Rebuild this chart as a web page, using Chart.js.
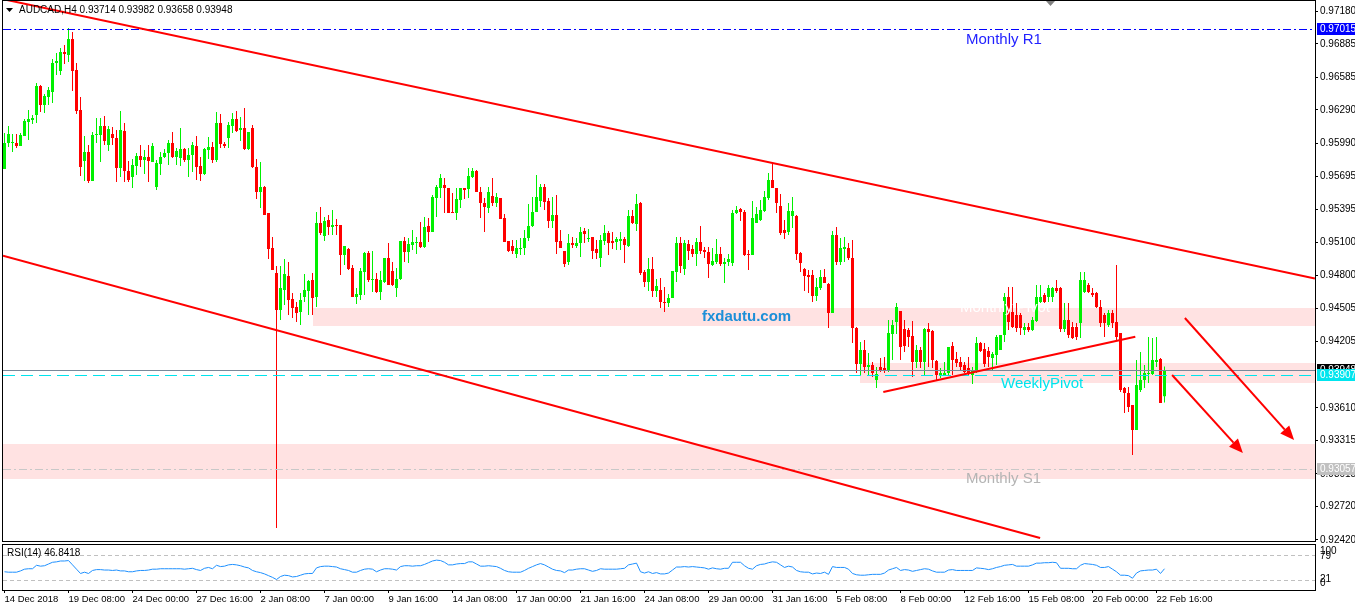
<!DOCTYPE html>
<html><head><meta charset="utf-8">
<script src="https://cdn.jsdelivr.net/npm/chart.js@4.4.1/dist/chart.umd.min.js"></script>
<style>
html,body{margin:0;padding:0;background:#fff;overflow:hidden;}
#wrap{position:relative;width:1355px;height:610px;background:#fff;}
canvas{position:absolute;left:0;}
#main{top:0;}
#rsi{top:543px;}
</style></head><body>
<div id="wrap"><canvas id="main" width="1355" height="548"></canvas><canvas id="rsi" width="1355" height="67"></canvas></div>
<script>
// ---------------- DATA ----------------
const open = [
0.95759,0.95993,0.95993,0.95993,0.95966,0.96056,0.96182,0.96200,0.96245,0.96506,
0.96335,0.96407,0.96452,0.96713,0.96641,0.96812,0.96785,0.96929,0.96650,0.96290,
0.95831,0.95912,0.95651,0.96065,0.96065,0.96146,0.95975,0.96074,0.96038,0.95768,
0.96101,0.95741,0.95687,0.95786,0.95876,0.95840,0.95867,0.95822,0.95597,0.95804,
0.95867,0.95903,0.95993,0.95867,0.95858,0.95939,0.95840,0.95885,0.95966,0.95786,
0.95714,0.95930,0.95957,0.95840,0.96173,0.95984,0.96038,0.96146,0.96209,0.96110,
0.96128,0.95939,0.96128,0.95777,0.95552,0.95597,0.95363,0.95048,0.94823,0.94490,
0.94670,0.94796,0.94589,0.94517,0.94472,0.94607,0.94661,0.94760,0.94607,0.95273,
0.95156,0.95300,0.95237,0.95255,0.95255,0.94985,0.95039,0.94868,0.94607,0.94625,
0.94832,0.95003,0.94760,0.94769,0.94652,0.94742,0.94958,0.94841,0.94688,0.94769,
0.95111,0.95012,0.95075,0.95093,0.95102,0.95057,0.95246,0.95192,0.95498,0.95588,
0.95615,0.95588,0.95372,0.95363,0.95480,0.95588,0.95579,0.95687,0.95741,0.95552,
0.95453,0.95408,0.95516,0.95453,0.95498,0.95318,0.95111,0.95066,0.94994,0.95039,
0.95048,0.95138,0.95246,0.95372,0.95471,0.95597,0.95471,0.95291,0.95345,0.95111,
0.95021,0.94922,0.95093,0.95066,0.95093,0.95201,0.95129,0.95147,0.95039,0.94958,
0.95111,0.95183,0.95111,0.95102,0.95111,0.95129,0.95066,0.95336,0.95264,0.95453,
0.94832,0.94742,0.94859,0.94661,0.94670,0.94562,0.94553,0.94598,0.94832,0.95093,
0.94859,0.95084,0.95039,0.94994,0.95102,0.95030,0.95012,0.94895,0.94922,0.94994,
0.94904,0.94922,0.94913,0.95363,0.95399,0.95372,0.94994,0.94985,0.95273,0.95300,
0.95381,0.95498,0.95660,0.95588,0.95426,0.95210,0.95192,0.95336,0.95336,0.95003,
0.94859,0.94805,0.94805,0.94616,0.94688,0.94787,0.94724,0.94463,0.95165,0.94922,
0.95039,0.95048,0.94958,0.94328,0.94004,0.94130,0.93977,0.93995,0.93860,0.93977,
0.93968,0.93941,0.94274,0.94382,0.94481,0.94319,0.94310,0.94256,0.94022,0.94130,
0.94022,0.94319,0.94301,0.94031,0.93905,0.93905,0.93923,0.94166,0.94049,0.94022,
0.93995,0.93968,0.93905,0.93950,0.94193,0.94139,0.94121,0.94058,0.94085,0.94130,
0.94265,0.94607,0.94472,0.94445,0.94445,0.94310,0.94337,0.94310,0.94391,0.94562,
0.94625,0.94607,0.94607,0.94688,0.94688,0.94319,0.94400,0.94337,0.94337,0.94373,
0.94652,0.94715,0.94643,0.94643,0.94517,0.94445,0.94355,0.94463,0.94382,0.94283,
0.93788,0.93743,0.93635,0.93410,0.93770,0.93860,0.93914,0.93914,0.94022,0.94049,
0.93714];
const high = [
0.96083,0.96146,0.96074,0.96074,0.96083,0.96209,0.96290,0.96245,0.96533,0.96515,
0.96434,0.96497,0.96749,0.96803,0.96848,0.96875,0.97028,0.96992,0.96713,0.96407,
0.96056,0.95975,0.96092,0.96218,0.96218,0.96236,0.96146,0.96137,0.96110,0.96281,
0.96173,0.95831,0.95849,0.95903,0.95975,0.95930,0.95975,0.95993,0.95840,0.95912,
0.95939,0.96020,0.96092,0.95948,0.96128,0.95948,0.95948,0.96002,0.96056,0.95867,
0.95948,0.96047,0.96002,0.96272,0.96254,0.96002,0.96182,0.96263,0.96281,0.96227,
0.96308,0.96092,0.96155,0.95849,0.95822,0.95606,0.95363,0.95147,0.94886,0.94886,
0.94949,0.94922,0.94643,0.94562,0.94643,0.94814,0.94760,0.94823,0.95372,0.95417,
0.95327,0.95345,0.95390,0.95309,0.95255,0.95066,0.95048,0.94895,0.94688,0.94868,
0.95012,0.95021,0.95021,0.94823,0.94841,0.94958,0.95093,0.94922,0.94868,0.95111,
0.95147,0.95138,0.95210,0.95147,0.95282,0.95327,0.95318,0.95525,0.95615,0.95714,
0.95678,0.95588,0.95543,0.95588,0.95588,0.95588,0.95768,0.95768,0.95750,0.95597,
0.95498,0.95597,0.95678,0.95543,0.95498,0.95354,0.95111,0.95120,0.95120,0.95138,
0.95210,0.95444,0.95507,0.95705,0.95624,0.95624,0.95498,0.95507,0.95525,0.95210,
0.95021,0.95174,0.95147,0.95138,0.95237,0.95228,0.95219,0.95147,0.95120,0.95165,
0.95255,0.95201,0.95192,0.95147,0.95192,0.95147,0.95390,0.95390,0.95534,0.95462,
0.94850,0.94958,0.94967,0.94769,0.94778,0.94697,0.94634,0.94841,0.95147,0.95147,
0.95120,0.95120,0.95075,0.95138,0.95246,0.95057,0.95057,0.95048,0.95129,0.95057,
0.94958,0.94994,0.95390,0.95426,0.95408,0.95390,0.95030,0.95471,0.95417,0.95480,
0.95561,0.95723,0.95822,0.95588,0.95534,0.95300,0.95453,0.95507,0.95345,0.95012,
0.94868,0.94850,0.94850,0.94778,0.94850,0.94859,0.94733,0.95201,0.95237,0.95138,
0.95147,0.95093,0.95120,0.94337,0.94202,0.94220,0.94103,0.94022,0.93977,0.94058,
0.94067,0.94400,0.94400,0.94553,0.94481,0.94400,0.94328,0.94391,0.94175,0.94157,
0.94328,0.94373,0.94310,0.94040,0.93968,0.94022,0.94157,0.94202,0.94112,0.94067,
0.94022,0.94067,0.93977,0.94247,0.94202,0.94193,0.94157,0.94112,0.94265,0.94265,
0.94643,0.94697,0.94697,0.94553,0.94463,0.94373,0.94373,0.94427,0.94715,0.94715,
0.94643,0.94715,0.94697,0.94760,0.94697,0.94553,0.94553,0.94382,0.94373,0.94832,
0.94832,0.94733,0.94688,0.94652,0.94580,0.94463,0.94490,0.94490,0.94895,0.94283,
0.93797,0.93797,0.93635,0.94040,0.94112,0.93995,0.94247,0.94238,0.94247,0.94058,
0.93982];
const low = [
0.95759,0.95957,0.95912,0.95948,0.95966,0.96056,0.96020,0.96164,0.96173,0.96272,
0.96263,0.96335,0.96353,0.96605,0.96605,0.96704,0.96722,0.96461,0.96254,0.95696,
0.95651,0.95633,0.95651,0.95993,0.95822,0.95975,0.95921,0.95975,0.95642,0.95687,
0.95642,0.95642,0.95588,0.95705,0.95777,0.95714,0.95642,0.95822,0.95570,0.95705,
0.95858,0.95795,0.95858,0.95795,0.95786,0.95822,0.95687,0.95732,0.95660,0.95651,
0.95705,0.95849,0.95813,0.95822,0.95948,0.95948,0.95948,0.96083,0.96092,0.96011,
0.95930,0.95930,0.95768,0.95489,0.95408,0.95345,0.94949,0.94850,0.92528,0.94400,
0.94535,0.94445,0.94418,0.94382,0.94355,0.94562,0.94445,0.94445,0.94517,0.95165,
0.95111,0.95165,0.95165,0.95165,0.94805,0.94895,0.94850,0.94607,0.94544,0.94580,
0.94625,0.94742,0.94652,0.94643,0.94580,0.94733,0.94715,0.94706,0.94607,0.94760,
0.94922,0.94913,0.95030,0.94994,0.95048,0.95048,0.95102,0.95192,0.95327,0.95498,
0.95363,0.95363,0.95363,0.95300,0.95408,0.95489,0.95498,0.95678,0.95552,0.95318,
0.95192,0.95363,0.95426,0.95417,0.95309,0.95102,0.95012,0.94994,0.94958,0.94985,
0.94985,0.95111,0.95237,0.95372,0.95417,0.95390,0.95228,0.95228,0.94994,0.95048,
0.94877,0.94895,0.95048,0.95048,0.94967,0.95093,0.95102,0.94949,0.94949,0.94877,
0.95075,0.94985,0.95039,0.95030,0.95030,0.94913,0.95057,0.95264,0.95201,0.94805,
0.94697,0.94661,0.94607,0.94607,0.94508,0.94472,0.94517,0.94598,0.94742,0.94823,
0.94805,0.94940,0.94967,0.94886,0.94994,0.94958,0.94778,0.94886,0.94904,0.94886,
0.94733,0.94886,0.94886,0.95354,0.95291,0.94976,0.94850,0.94985,0.95273,0.95291,
0.95372,0.95480,0.95588,0.95363,0.95165,0.95129,0.95165,0.95228,0.94940,0.94832,
0.94661,0.94643,0.94562,0.94571,0.94670,0.94733,0.94328,0.94463,0.94895,0.94895,
0.94922,0.94940,0.94193,0.93923,0.93905,0.93923,0.93905,0.93887,0.93788,0.93932,
0.93923,0.93932,0.94040,0.94274,0.94040,0.94112,0.94157,0.93887,0.93968,0.93968,
0.93905,0.93977,0.93968,0.93860,0.93878,0.93905,0.93905,0.93905,0.93977,0.93950,
0.93923,0.93905,0.93824,0.93923,0.94112,0.93977,0.93977,0.93950,0.93995,0.94130,
0.94202,0.94310,0.94328,0.94292,0.94265,0.94265,0.94292,0.94301,0.94382,0.94553,
0.94553,0.94562,0.94562,0.94643,0.94292,0.94292,0.94238,0.94229,0.94220,0.94238,
0.94643,0.94643,0.94607,0.94508,0.94337,0.94247,0.94337,0.94328,0.94220,0.93752,
0.93563,0.93572,0.93185,0.93410,0.93752,0.93788,0.93833,0.93905,0.93977,0.93653,
0.93658];
const close = [
0.95993,0.96074,0.96002,0.95966,0.96065,0.96191,0.96209,0.96218,0.96506,0.96335,
0.96416,0.96470,0.96713,0.96731,0.96812,0.96794,0.96929,0.96641,0.96281,0.95777,
0.95912,0.95651,0.96065,0.96074,0.96146,0.96011,0.96119,0.96038,0.95768,0.96110,
0.95741,0.95660,0.95795,0.95876,0.95840,0.95867,0.95831,0.95966,0.95813,0.95867,
0.95903,0.95993,0.95867,0.95921,0.95939,0.95840,0.95885,0.95975,0.95777,0.95714,
0.95939,0.95957,0.95840,0.96173,0.95984,0.95966,0.96155,0.96209,0.96101,0.96128,
0.95939,0.96092,0.95777,0.95552,0.95597,0.95345,0.95039,0.94850,0.94490,0.94688,
0.94814,0.94580,0.94508,0.94463,0.94580,0.94670,0.94751,0.94598,0.95273,0.95183,
0.95291,0.95237,0.95255,0.95246,0.94985,0.95066,0.94859,0.94607,0.94634,0.94841,
0.95003,0.94760,0.94769,0.94652,0.94760,0.94958,0.94715,0.94715,0.94769,0.95111,
0.95012,0.95084,0.95102,0.95102,0.95057,0.95237,0.95192,0.95507,0.95597,0.95678,
0.95588,0.95363,0.95363,0.95489,0.95588,0.95570,0.95696,0.95741,0.95552,0.95453,
0.95417,0.95552,0.95453,0.95507,0.95309,0.95102,0.95021,0.95021,0.95048,0.95048,
0.95138,0.95246,0.95372,0.95507,0.95597,0.95462,0.95291,0.95345,0.95102,0.95048,
0.94904,0.95093,0.95075,0.95093,0.95192,0.95174,0.95138,0.95021,0.95003,0.95120,
0.95183,0.95093,0.95093,0.95129,0.95129,0.95075,0.95336,0.95273,0.95444,0.94823,
0.94742,0.94859,0.94661,0.94706,0.94562,0.94553,0.94598,0.94841,0.95093,0.94886,
0.95093,0.95021,0.94994,0.95102,0.95021,0.95012,0.94904,0.94931,0.94994,0.94904,
0.94922,0.94949,0.95363,0.95390,0.95372,0.94985,0.94985,0.95318,0.95354,0.95390,
0.95507,0.95660,0.95588,0.95453,0.95183,0.95183,0.95381,0.95381,0.94994,0.94913,
0.94796,0.94787,0.94616,0.94697,0.94787,0.94733,0.94463,0.95165,0.94922,0.95048,
0.95057,0.94958,0.94328,0.94004,0.94130,0.93977,0.93995,0.93923,0.93914,0.93941,
0.93941,0.94283,0.94355,0.94517,0.94157,0.94166,0.94247,0.94022,0.94130,0.94022,
0.94319,0.94292,0.94040,0.93905,0.93923,0.93923,0.94157,0.94040,0.94013,0.93977,
0.93932,0.93923,0.93950,0.94193,0.94121,0.94004,0.94067,0.94094,0.94247,0.94265,
0.94607,0.94382,0.94337,0.94328,0.94328,0.94337,0.94310,0.94400,0.94607,0.94607,
0.94562,0.94688,0.94688,0.94661,0.94319,0.94400,0.94265,0.94238,0.94247,0.94760,
0.94760,0.94652,0.94625,0.94517,0.94373,0.94373,0.94463,0.94373,0.94247,0.93770,
0.93743,0.93617,0.93410,0.93815,0.93860,0.93923,0.93923,0.94040,0.94040,0.93653,
0.93948];
const rsi = [
40,39,39,39,42,46,47,47,55,53, 54,58,62,63,65,65,66,56,46,36,
39,36,43,45,45,44,44,43,44,42, 42,40,40,42,43,43,44,46,46,47,
47,47,47,47,47,46,47,48,45,43, 48,50,47,55,52,53,56,57,56,54,
51,49,43,40,38,35,31,27,22,29, 32,31,28,29,32,35,36,36,49,52,
53,53,52,51,47,45,43,39,39,43, 46,47,46,40,44,47,47,46,44,52,
54,54,53,54,54,57,61,65,67,66, 62,56,56,58,59,59,63,63,58,53,
53,54,53,52,48,43,40,39,39,39, 43,48,52,56,59,56,51,46,43,42,
38,44,44,46,47,47,44,41,43,47, 46,46,46,46,47,48,56,58,60,40,
37,40,36,38,35,35,37,44,51,51, 52,51,52,51,50,49,46,49,47,46,
48,48,62,62,62,54,48,46,54,57, 58,61,63,62,56,50,53,51,43,40,
39,39,35,37,36,39,34,52,50,50, 50,46,36,33,32,32,33,34,34,34,
37,44,47,50,43,45,44,41,43,45, 47,46,42,39,39,39,44,45,43,43,
43,43,43,49,48,47,45,47,50,52, 55,56,57,53,53,53,53,56,60,60,
61,61,62,61,48,48,48,47,47,55, 59,58,57,55,50,50,52,46,40,32,
32,31,25,37,42,43,44,44,46,36, 47];
const dateLabels = ['14 Dec 2018','19 Dec 08:00','24 Dec 00:00','27 Dec 16:00','2 Jan 08:00','7 Jan 00:00','9 Jan 16:00','14 Jan 08:00','17 Jan 00:00','21 Jan 16:00','24 Jan 08:00','29 Jan 00:00','31 Jan 16:00','5 Feb 08:00','8 Feb 00:00','12 Feb 16:00','15 Feb 08:00','20 Feb 00:00','22 Feb 16:00'];
const priceTicks = [0.97180,0.96885,0.96585,0.96290,0.95990,0.95695,0.95395,0.95100,0.94800,0.94505,0.94205,0.93610,0.93315,0.93015,0.92720,0.92420];
const header = 'AUDCAD,H4 0.93714 0.93982 0.93658 0.93948';
const rsiTitle = 'RSI(14) 46.8418';
// levels
const monthlyR1 = 0.97015, bidLine = 0.93948, weeklyPivot = 0.93907, monthlyS1 = 0.93057;
// zones: start bar, top price, bottom price
const zoneFrom = [77, 213.75, -0.375];
const zoneTop = [0.94510, 0.94013, 0.93284];
const zoneBottom = [0.94345, 0.93833, 0.92969];
// trend lines: [bar0, price0, bar1, price1]
const trendLines = [[0.625,0.97280,327.6,0.94774],[-0.375,0.94979,258.9,0.92438],[219.7,0.93752,282.7,0.94250]];
const arrows = [[295.1,0.94418,322.4,0.93320],[291.9,0.93905,309.6,0.93203]];

// ---------------- CHART ----------------
const FONT = '"Liberation Sans", Arial, sans-serif';
Chart.defaults.font.family = FONT;
const N = close.length;
const idx = Array.from({length:N},(_,i)=>i);
const UP = '#00f000', DN = '#ff0000';
const colors = idx.map(i => close[i] >= open[i] ? UP : DN);
const XMIN = -0.375, XMAX = 327.625;

function hline(ctx,a,yp,color,dash){
  const yy = Math.round(yp)+0.5;
  ctx.save(); ctx.strokeStyle=color; ctx.lineWidth=1; ctx.setLineDash(dash||[]);
  ctx.beginPath(); ctx.moveTo(a.left,yy); ctx.lineTo(a.right,yy); ctx.stroke(); ctx.restore();
}
function label(ctx,text,x,y,color,font){
  ctx.save(); ctx.fillStyle=color; ctx.font=font; ctx.textBaseline='middle'; ctx.textAlign='left';
  ctx.fillText(text,x,y); ctx.restore();
}
function axisBox(ctx,yp,bg,text,fg){
  const yc = Math.round(yp);
  ctx.save(); ctx.fillStyle=bg; ctx.fillRect(1317,yc-6,38,12);
  ctx.fillStyle=fg; ctx.font='10px '+FONT; ctx.textBaseline='middle'; ctx.textAlign='left';
  ctx.fillText(text,1320,yc+0.5); ctx.restore();
}

const mainPlugin = {
  id:'mainOverlay',
  beforeDatasetsDraw(chart){
    const {ctx, chartArea:a, scales:{x,y}} = chart;
    ctx.save();
    ctx.fillStyle='rgb(255,226,226)';
    for(let k=0;k<zoneFrom.length;k++){
      const x0 = Math.max(a.left, Math.round(x.getPixelForValue(zoneFrom[k])));
      const y0 = Math.round(y.getPixelForValue(zoneTop[k])), y1 = Math.round(y.getPixelForValue(zoneBottom[k]));
      ctx.fillRect(x0,y0,a.right-x0,y1-y0);
    }
    ctx.restore();
  },
  afterDatasetsDraw(chart){
    const {ctx, chartArea:a, scales:{x,y}} = chart;
    ctx.save();
    ctx.beginPath(); ctx.rect(a.left,a.top,a.right-a.left,a.bottom-a.top); ctx.clip();
    hline(ctx,a,y.getPixelForValue(monthlyR1),'#0000ff',[8,3,2,3]);
    hline(ctx,a,y.getPixelForValue(monthlyS1),'#c8c8c8',[8,3,2,3]);
    hline(ctx,a,y.getPixelForValue(bidLine),'#778899',[]);
    hline(ctx,a,y.getPixelForValue(weeklyPivot),'#00e5ee',[12,6]);
    // trend lines
    ctx.strokeStyle='#ff0000'; ctx.lineWidth=2;
    trendLines.forEach(t=>{
      ctx.beginPath(); ctx.moveTo(x.getPixelForValue(t[0]),y.getPixelForValue(t[1]));
      ctx.lineTo(x.getPixelForValue(t[2]),y.getPixelForValue(t[3])); ctx.stroke();
    });
    // arrows
    ctx.fillStyle='#ff0000';
    arrows.forEach(t=>{
      const x0=x.getPixelForValue(t[0]), y0=y.getPixelForValue(t[1]);
      const x1=x.getPixelForValue(t[2]), y1=y.getPixelForValue(t[3]);
      const ang=Math.atan2(y1-y0,x1-x0), L=14, W=6;
      const bx=x1-L*Math.cos(ang), by=y1-L*Math.sin(ang);
      ctx.beginPath(); ctx.moveTo(x0,y0); ctx.lineTo(bx,by); ctx.stroke();
      ctx.beginPath(); ctx.moveTo(x1,y1);
      ctx.lineTo(bx+W*Math.sin(ang), by-W*Math.cos(ang));
      ctx.lineTo(bx-W*Math.sin(ang), by+W*Math.cos(ang));
      ctx.closePath(); ctx.fill();
    });
    // texts
    label(ctx,'Monthly R1',966,40,'#2222ff','15px '+FONT);
    label(ctx,'Monthly Pivot',960,308,'#ffffff','15px '+FONT);
    label(ctx,'WeeklyPivot',1001,384,'#00e5ee','15px '+FONT);
    label(ctx,'Monthly S1',966,479,'#b4b4b4','15px '+FONT);
    label(ctx,'fxdautu.com',702,317,'#1d8fd8','bold 15px '+FONT);
    ctx.restore();
  },
  afterDraw(chart){
    const {ctx, scales:{y}} = chart;
    ctx.save();
    ctx.strokeStyle='#000'; ctx.lineWidth=1; ctx.setLineDash([]);
    ctx.strokeRect(2.5,0.5,1313,541);
    // header
    ctx.fillStyle='#000';
    ctx.beginPath(); ctx.moveTo(6,8); ctx.lineTo(13,8); ctx.lineTo(9.5,12); ctx.closePath(); ctx.fill();
    ctx.font='10px '+FONT; ctx.textBaseline='middle'; ctx.textAlign='left';
    ctx.fillText(header,19,10);
    // top marker
    ctx.fillStyle='#808080';
    ctx.beginPath(); ctx.moveTo(1046,1); ctx.lineTo(1055,1); ctx.lineTo(1050.5,6); ctx.closePath(); ctx.fill();
    ctx.restore();
    axisBox(ctx,y.getPixelForValue(monthlyR1),'#0000ff','0.97015','#fff');
    axisBox(ctx,y.getPixelForValue(monthlyS1),'#c0c0c0','0.93057','#fff');
    axisBox(ctx,y.getPixelForValue(bidLine),'#000000','0.93948','#fff');
    axisBox(ctx,y.getPixelForValue(weeklyPivot),'#00e5ee','0.93907','#fff');
  }
};

new Chart(document.getElementById('main'),{
  type:'bar',
  data:{datasets:[
    {data: idx.map(i=>({x:i,y:[low[i],high[i]]})), backgroundColor:colors, barThickness:1, grouped:false, borderWidth:0, inflateAmount:0, order:2},
    {data: idx.map(i=>({x:i,y:[open[i],close[i]]})), backgroundColor:colors, barThickness:3, minBarLength:1, grouped:false, borderWidth:0, inflateAmount:0, order:1}
  ]},
  options:{
    responsive:false, animation:false, devicePixelRatio:1,
    layout:{padding:{left:3,top:1,right:0,bottom:7}},
    plugins:{legend:{display:false},tooltip:{enabled:false}},
    scales:{
      x:{type:'linear',min:XMIN,max:XMAX,offset:false,display:false,grid:{offset:false}},
      y:{position:'right',min:0.92411,max:0.97271,
        afterBuildTicks:s=>{s.ticks=priceTicks.map(v=>({value:v}));},
        afterFit:s=>{s.width=40;s.paddingTop=0;s.paddingBottom=0;},
        ticks:{callback:v=>Number(v).toFixed(5),font:{size:10,family:FONT},color:'#000',padding:2,autoSkip:false},
        grid:{drawOnChartArea:false,drawTicks:true,tickLength:3,color:'#000'},
        border:{display:false}}
    }
  },
  plugins:[mainPlugin]
});

const rsiPlugin = {
  id:'rsiOverlay',
  beforeDatasetsDraw(chart){
    const {ctx, chartArea:a, scales:{y}} = chart;
    hline(ctx,a,y.getPixelForValue(79),'#c0c0c0',[4,3]);
    hline(ctx,a,y.getPixelForValue(21),'#c0c0c0',[4,3]);
  },
  afterDraw(chart){
    const {ctx} = chart;
    ctx.save();
    ctx.strokeStyle='#000'; ctx.lineWidth=1;
    ctx.strokeRect(2.5,1.5,1313,46);
    ctx.fillStyle='#000'; ctx.font='10px '+FONT; ctx.textBaseline='middle'; ctx.textAlign='left';
    ctx.fillText(rsiTitle,7,10);
    ctx.fillText('100',1320,8.5);
    ctx.fillText('79',1320,13);
    ctx.fillText('21',1320,36);
    ctx.fillText('0',1320,40);
    ctx.restore();
  }
};

new Chart(document.getElementById('rsi'),{
  type:'line',
  data:{datasets:[{data: idx.map(i=>({x:i,y:rsi[i]})), borderColor:'#1e90ff', borderWidth:1, pointRadius:0, tension:0, fill:false}]},
  options:{
    responsive:false, animation:false, devicePixelRatio:1,
    layout:{padding:{left:3,top:2,right:40,bottom:0}},
    plugins:{legend:{display:false},tooltip:{enabled:false}},
    scales:{
      x:{type:'linear',min:XMIN,max:XMAX,offset:false,
        afterBuildTicks:s=>{s.ticks=dateLabels.map((_,k)=>({value:16*k}));},
        afterFit:s=>{s.height=20;s.paddingLeft=0;s.paddingRight=0;},
        ticks:{callback:v=>dateLabels[Math.round(v/16)],align:'start',maxRotation:0,autoSkip:false,font:{size:9.5,family:FONT},color:'#000',padding:1},
        grid:{drawOnChartArea:false,drawTicks:true,tickLength:3,color:'#000'},
        border:{display:false}},
      y:{display:false,min:-2.32,max:102.09}
    }
  },
  plugins:[rsiPlugin]
});
</script></body></html>
